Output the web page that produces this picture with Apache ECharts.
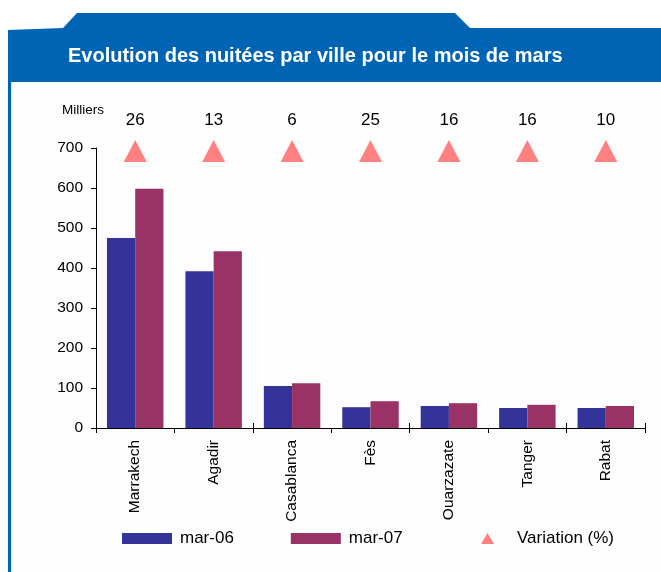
<!DOCTYPE html>
<html>
<head>
<meta charset="utf-8">
<script src="https://cdn.jsdelivr.net/npm/echarts@6/dist/echarts.min.js"></script>
<style>
html,body{margin:0;padding:0;background:#fff;}
#c{width:661px;height:572px;}
</style>
</head>
<body>
<div id="c"></div>
<script>
const cities = ['Marrakech', 'Agadir', 'Casablanca', 'Fès', 'Ouarzazate', 'Tanger', 'Rabat'];
const mar06 = [475, 392, 105, 52, 55, 50, 50];
const mar07 = [598, 442, 112, 67, 62, 58, 55];
const variation = [26, 13, 6, 25, 16, 16, 10];
const seriesNames = ['mar-06', 'mar-07', 'Variation (%)'];
const unitLabel = 'Milliers';
const titleText = 'Evolution des nuitées par ville pour le mois de mars';

const FONT = '"Liberation Sans", Arial, sans-serif';
const chart = echarts.init(document.getElementById('c'), null, {renderer: 'canvas'});

const legendText = {fontSize: 17, fontFamily: FONT, color: '#000'};

const option = {
  backgroundColor: '#ffffff',
  animation: false,
  textStyle: {fontFamily: FONT, color: '#000'},
  graphic: [
    {type: 'rect', silent: true, z: -10, shape: {x: 11, y: 82, width: 650, height: 490}, style: {fill: '#fdfdfd'}},
    {type: 'polygon', silent: true, z: -5,
      shape: {points: [[8, 30], [63, 28], [77, 13], [455, 13], [470, 28], [661, 28], [661, 82], [8, 82]]},
      style: {fill: '#0064B4'}},
    {type: 'rect', silent: true, z: -5, shape: {x: 8, y: 82, width: 3, height: 490}, style: {fill: '#0064B4'}},
    {type: 'rect', silent: true, z: -5, shape: {x: 11, y: 82, width: 1, height: 490}, style: {fill: '#e4e8ee'}},
    {type: 'text', silent: true, left: 62, top: 103,
      style: {text: unitLabel, font: '13.5px ' + FONT, fill: '#000'}}
  ],
  title: {
    text: titleText,
    left: 63, top: 41,
    textStyle: {color: '#fff', fontWeight: 'bold', fontSize: 20, fontFamily: FONT}
  },
  legend: [
    {
      data: [
        {name: seriesNames[0], icon: 'rect'},
        {name: seriesNames[1], icon: 'rect'}
      ],
      left: 117, top: 525,
      itemWidth: 50, itemHeight: 11, itemGap: 57,
      textStyle: Object.assign({padding: [0, 0, 0, 3]}, legendText)
    },
    {
      data: [{name: seriesNames[2], icon: 'path://M0,11L6.5,0L13,11Z'}],
      left: 476, top: 525,
      itemWidth: 13, itemHeight: 11,
      symbolKeepAspect: true,
      textStyle: Object.assign({padding: [0, 0, 0, 18]}, legendText)
    }
  ],
  grid: [
    {left: 96, right: 16, top: 148, bottom: 144},
    {left: 96, right: 16, top: 140, height: 22}
  ],
  xAxis: [
    {type: 'category', gridIndex: 0, data: cities,
      axisLine: {lineStyle: {color: '#000', width: 1}},
      axisTick: {show: true, length: 5, lineStyle: {color: '#000'}},
      axisLabel: {rotate: 90, margin: 12, fontSize: 15.5, color: '#000', fontFamily: FONT}},
    {type: 'category', gridIndex: 0, data: cities, position: 'bottom',
      axisLine: {show: false},
      axisTick: {show: true, inside: true, length: 5, lineStyle: {color: '#000'}},
      axisLabel: {show: false}},
    {type: 'category', gridIndex: 1, data: cities, show: false}
  ],
  yAxis: [
    {type: 'value', gridIndex: 0, min: 0, max: 700, interval: 100,
      axisLine: {show: true, lineStyle: {color: '#000', width: 1}},
      axisTick: {show: true, length: 5, lineStyle: {color: '#000'}},
      axisLabel: {margin: 13, fontSize: 15.5, color: '#000', fontFamily: FONT},
      splitLine: {show: false}},
    {type: 'category', gridIndex: 1, data: [seriesNames[2]], show: false}
  ],
  series: [
    {name: seriesNames[0], type: 'bar', xAxisIndex: 0, yAxisIndex: 0, data: mar06,
      barGap: '0%', barCategoryGap: '28%', itemStyle: {color: '#333399'}},
    {name: seriesNames[1], type: 'bar', xAxisIndex: 0, yAxisIndex: 0, data: mar07,
      barGap: '0%', barCategoryGap: '28%', itemStyle: {color: '#993366'}},
    {name: seriesNames[2], type: 'scatter', xAxisIndex: 2, yAxisIndex: 1,
      data: cities.map((c, i) => [c, seriesNames[2], variation[i]]),
      symbol: 'triangle', symbolSize: [23, 22],
      itemStyle: {color: '#FF8080', opacity: 1},
      label: {show: true, position: 'top', distance: 11, fontSize: 17, color: '#000', fontFamily: FONT,
        formatter: p => String(p.value[2])}}
  ]
};
chart.setOption(option);
</script>
</body>
</html>
